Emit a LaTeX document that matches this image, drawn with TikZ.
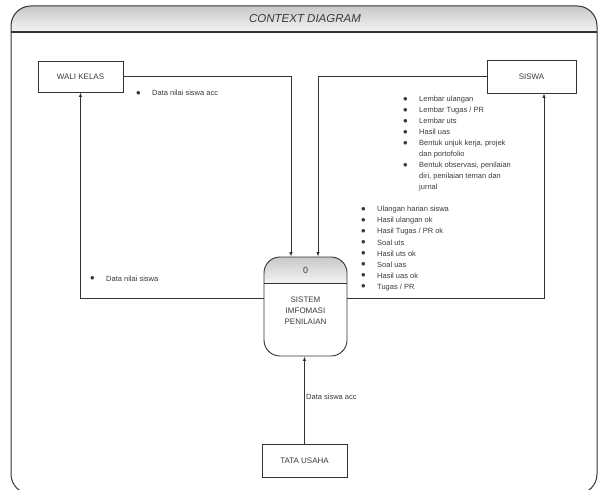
\documentclass[tikz,border=0pt]{standalone}
\usepackage{fontspec}
\setmainfont{Liberation Sans}
\usetikzlibrary{arrows.meta,calc}
\definecolor{linec}{HTML}{333333}
\definecolor{txtc}{HTML}{3A3A3A}
\definecolor{shadetop}{HTML}{C8C8C8}
\definecolor{shadebot}{HTML}{F4F4F4}
\newcommand{\bul}{\raisebox{0.1ex}{\fontsize{9bp}{9bp}\selectfont$\bullet$}}
\tikzset{
  entity/.style={draw=linec, line width=0.9bp, fill=white, font=\fontsize{8bp}{10bp}\selectfont, text=txtc, inner sep=0pt},
  arr/.style={draw=linec, line width=0.8bp, -{Latex[length=4.5bp,width=3.5bp]}},
  lbl/.style={font=\fontsize{7.5bp}{11bp}\selectfont, text=txtc, inner sep=0pt},
}
\begin{document}
\begin{tikzpicture}[x=1bp,y=-1bp]
\useasboundingbox (0,0) rectangle (598,490);
\clip (0,0) rectangle (598,490);
% frame title band
\shade[top color=shadetop, bottom color=shadebot] (11,32) {[rounded corners=20] -- (11,6) -- (597,6)} -- (597,32) -- cycle;
\draw[linec, line width=1bp, rounded corners=20] (11,6) rectangle (597,494);
\draw[linec, line width=1.3bp] (11,32) -- (597,32);
\node[font=\fontsize{11.5bp}{13bp}\selectfont\itshape, text=txtc, inner sep=0pt] (title) at (305,19) {CONTEXT DIAGRAM};

% entities
\node[entity, minimum width=85bp, minimum height=31bp] (wali) at (80.5,76.5) {WALI KELAS};
\node[entity, minimum width=89bp, minimum height=33bp] (siswa) at (531.5,76.5) {SISWA};
\node[entity, minimum width=85bp, minimum height=33bp] (tata) at (304.5,460.5) {TATA USAHA};

% process
\shade[top color=shadetop, bottom color=shadebot] (264,283) {[rounded corners=16] -- (264,257) -- (347,257)} -- (347,283) -- cycle;
\node[draw=linec, line width=0.9bp, rounded corners=16, minimum width=83bp, minimum height=99bp, inner sep=0pt] (proc) at (305.5,306.5) {};
\draw[linec, line width=1bp] (proc.west |- 0,283) -- (proc.east |- 0,283);
\node[font=\fontsize{9bp}{11bp}\selectfont, text=txtc, inner sep=0pt] (proczero) at (305.5,270) {0};
\node[font=\fontsize{8bp}{11bp}\selectfont, text=txtc, inner sep=0pt, align=center] (proclabel) at (305.5,311) {SISTEM\\IMFOMASI\\PENILAIAN};

% connectors
\draw[arr] (wali.east) -| ($(proc.north)+(-14.5,0)$);
\draw[arr] (siswa.west) -| ($(proc.north)+(12.5,0)$);
\draw[arr] ($(proc.west)+(0,-8.5)$) -| (wali.south);
\draw[arr] ($(proc.east)+(0,-8.5)$) -| ($(siswa.south)+(12.5,0)$);
\draw[arr] (tata.north) -- (tata.north |- proc.south);

% labels
\node[lbl, anchor=base west] (lblacc) at (136,96) {\begin{tabular}[t]{@{}p{16bp}@{}l@{}}\bul&Data nilai siswa acc\end{tabular}};
\node[lbl, anchor=base west] (lblnilai) at (90,281) {\begin{tabular}[t]{@{}p{16bp}@{}l@{}}\bul&Data nilai siswa\end{tabular}};
\node[lbl, anchor=base west] (lblsiswa) at (403,102) {\begin{tabular}[t]{@{}p{16bp}@{}l@{}}
\bul&Lembar ulangan\\
\bul&Lembar Tugas / PR\\
\bul&Lembar uts\\
\bul&Hasil uas\\
\bul&Bentuk unjuk kerja, projek\\
&dan portofolio\\
\bul&Bentuk observasi, penilaian\\
&diri, penilaian teman dan\\
&jurnal
\end{tabular}};
\node[lbl, anchor=base west] (lblproc) at (361,212) {\begin{tabular}[t]{@{}p{16bp}@{}l@{}}
\bul&Ulangan harian siswa\\
\bul&Hasil ulangan ok\\
\bul&Hasil Tugas / PR ok\\
\bul&Soal uts\\
\bul&Hasil uts ok\\
\bul&Soal uas\\
\bul&Hasil uas ok\\
\bul&Tugas / PR
\end{tabular}};
\node[lbl, anchor=base west] (lbltata) at (306,399) {Data siswa acc};
\end{tikzpicture}
\end{document}
